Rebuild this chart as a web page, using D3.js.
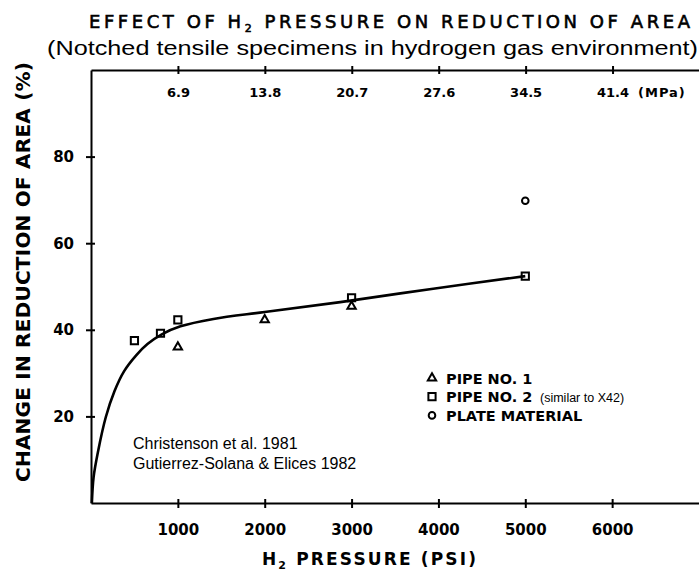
<!DOCTYPE html>
<html>
<head>
<meta charset="utf-8">
<script src="https://cdn.jsdelivr.net/npm/d3@7"></script>
<style>
  html, body { margin: 0; padding: 0; background: #fff; }
  svg { display: block; }
  .lbl { font-family: "DejaVu Sans", sans-serif; font-weight: bold; fill: #000; }
  .reg { font-family: "Liberation Sans", Arial, sans-serif; fill: #000; }
</style>
</head>
<body>
<svg id="chart" width="699" height="575"></svg>
<script>
// Reduction of area vs. hydrogen pressure (psi), notched tensile specimens
const pipe1 = [            // triangles
  { psi: 1000, ra: 36.0 },
  { psi: 2000, ra: 42.3 },
  { psi: 3000, ra: 45.4 }
];
const pipe2 = [            // squares
  { psi: 500,  ra: 37.5 },
  { psi: 800,  ra: 39.2 },
  { psi: 1000, ra: 42.3 },
  { psi: 3000, ra: 47.4 },
  { psi: 5000, ra: 52.4 }
];
const plate = [            // circles
  { psi: 5000, ra: 69.8 }
];
// hand-fitted trend curve through the data
const fitCurve = [
  [10, 0], [30, 6], [80, 11.8], [170, 19.8], [270, 25.8], [380, 30.4],
  [520, 34.1], [650, 36.7], [820, 39.0], [1030, 40.8], [1410, 42.5],
  [2000, 44.1], [2870, 46.4], [3940, 49.5], [5000, 52.4]
];
const psiTicks = [1000, 2000, 3000, 4000, 5000, 6000];
const mpaTicks = [6.9, 13.8, 20.7, 27.6, 34.5, 41.4];
const raTicks  = [20, 40, 60, 80];
const PSI_TO_MPA = 0.0068948;

const svg = d3.select("#chart");

const x = d3.scaleLinear().domain([0, 7000]).range([91, 699]);
const xMpa = d3.scaleLinear().domain([0, 7000 * PSI_TO_MPA]).range([91, 699]);
const y = d3.scaleLinear().domain([0, 100]).range([503, 70]);

// ---- titles
const title = svg.append("text")
  .attr("x", 89).attr("y", 28)
  .attr("font-family", "DejaVu Sans").attr("font-size", 18)
  .attr("fill", "#000").attr("stroke", "#000").attr("stroke-width", 0.6)
  .attr("textLength", 601).attr("lengthAdjust", "spacing");
title.append("tspan").text("EFFECT OF H");
title.append("tspan").attr("font-size", 11).attr("dy", 4).text("2");
title.append("tspan").attr("dy", -4).text(" PRESSURE ON REDUCTION OF AREA");

svg.append("text").attr("class", "reg")
  .attr("x", 47).attr("y", 55)
  .attr("font-size", 20)
  .attr("textLength", 651).attr("lengthAdjust", "spacingAndGlyphs")
  .text("(Notched tensile specimens in hydrogen gas environment)");

// ---- axes
function styleAxis(g) {
  g.select(".domain").attr("stroke", "#000").attr("stroke-width", 2);
  g.selectAll(".tick line").attr("stroke", "#000").attr("stroke-width", 2);
  g.selectAll(".tick text").attr("class", "lbl").attr("fill", "#000");
}

const gBottom = svg.append("g").attr("transform", "translate(0,503)")
  .call(d3.axisBottom(x).tickValues(psiTicks).tickFormat(d3.format("d"))
    .tickSizeInner(5).tickSizeOuter(0).tickPadding(16.5));
styleAxis(gBottom);
gBottom.selectAll(".tick line").attr("y1", -4).attr("y2", 5);
gBottom.selectAll(".tick text").attr("font-size", 15).attr("font-family", "DejaVu Sans").attr("font-weight", "bold");

const gTop = svg.append("g").attr("transform", "translate(0,70)")
  .call(d3.axisBottom(xMpa).tickValues(mpaTicks).tickFormat(d3.format(".1f"))
    .tickSizeInner(4).tickSizeOuter(0).tickPadding(13.5));
styleAxis(gTop);
gTop.selectAll(".tick line").attr("y1", -4).attr("y2", 4);
gTop.selectAll(".tick text").attr("font-size", 13).attr("font-family", "DejaVu Sans").attr("font-weight", "bold");

svg.append("text").attr("class", "lbl")
  .attr("x", 638).attr("y", 97).attr("font-size", 13)
  .attr("letter-spacing", 1)
  .text("(MPa)");

const gLeft = svg.append("g").attr("transform", "translate(91,0)")
  .call(d3.axisLeft(y).tickValues(raTicks).tickFormat(d3.format("d"))
    .tickSizeInner(5).tickSizeOuter(0).tickPadding(12));
styleAxis(gLeft);
gLeft.selectAll(".tick line").attr("x1", -5).attr("x2", 4);
gLeft.selectAll(".tick text").attr("font-size", 15).attr("font-family", "DejaVu Sans").attr("font-weight", "bold");

// axis titles
svg.append("text").attr("class", "lbl")
  .attr("transform", "translate(30,272) rotate(-90)")
  .attr("text-anchor", "middle")
  .attr("font-size", 20)
  .attr("textLength", 420).attr("lengthAdjust", "spacing")
  .text("CHANGE IN REDUCTION OF AREA (%)");

const xt = svg.append("text").attr("class", "lbl")
  .attr("x", 262).attr("y", 565)
  .attr("font-size", 17)
  .attr("textLength", 214).attr("lengthAdjust", "spacing");
xt.append("tspan").text("H");
xt.append("tspan").attr("font-size", 11).attr("dy", 4).text("2");
xt.append("tspan").attr("dy", -4).text("  PRESSURE  (PSI)");

// ---- trend curve
const line = d3.line()
  .x(d => x(d[0])).y(d => y(d[1]))
  .curve(d3.curveCatmullRom.alpha(0.5));
svg.append("path")
  .datum(fitCurve)
  .attr("d", line)
  .attr("fill", "none")
  .attr("stroke", "#000")
  .attr("stroke-width", 2.6);

// ---- data markers
const sym = {
  tri: d3.symbol().type(d3.symbolTriangle).size(30),
  sq: d3.symbol().type(d3.symbolSquare).size(52),
  circ: d3.symbol().type(d3.symbolCircle).size(34)
};
function drawMarkers(data, s) {
  svg.append("g").selectAll("path").data(data).join("path")
    .attr("transform", d => `translate(${x(d.psi)},${y(d.ra)})`)
    .attr("d", s)
    .attr("fill", "none")
    .attr("stroke", "#000")
    .attr("stroke-width", 2);
}
drawMarkers(pipe1, sym.tri);
drawMarkers(pipe2, sym.sq);
drawMarkers(plate, sym.circ);

// ---- legend
const legend = [
  { s: sym.tri,  label: "PIPE  NO. 1", note: "" },
  { s: sym.sq,   label: "PIPE  NO. 2", note: "(similar to X42)" },
  { s: sym.circ, label: "PLATE MATERIAL", note: "" }
];
const lg = svg.append("g").attr("transform", "translate(432,378)");
legend.forEach((d, i) => {
  const row = lg.append("g").attr("transform", `translate(0,${i * 18.7})`);
  row.append("path").attr("d", d.s).attr("fill", "none")
    .attr("stroke", "#000").attr("stroke-width", 2);
  row.append("text").attr("class", "lbl")
    .attr("x", 14).attr("y", 5.5).attr("font-size", 14.5).text(d.label);
  if (d.note) {
    row.append("text").attr("class", "reg")
      .attr("x", 108).attr("y", 5).attr("font-size", 12.5).text(d.note);
  }
});

// ---- source note
const src = svg.append("g").attr("class", "reg").attr("font-size", 16);
src.append("text").attr("x", 133).attr("y", 449).text("Christenson et al. 1981");
src.append("text").attr("x", 133).attr("y", 469).text("Gutierrez-Solana & Elices 1982");
</script>
</body>
</html>
